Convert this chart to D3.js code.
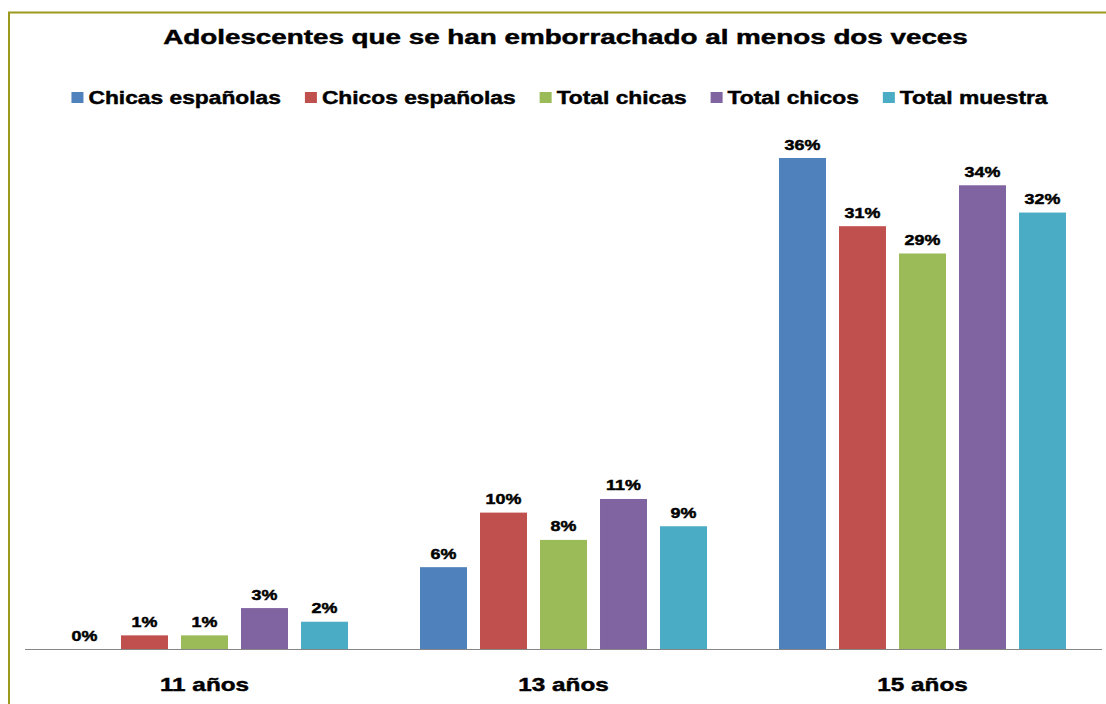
<!DOCTYPE html>
<html>
<head>
<meta charset="utf-8">
<script src="https://cdn.jsdelivr.net/npm/d3@7"></script>
<style>
  html, body { margin: 0; padding: 0; background: #fff; }
  svg { display: block; font-family: "Liberation Sans", Arial, sans-serif; }
  text { font-weight: bold; fill: #000; stroke: #000; stroke-width: 0.45px; }
</style>
</head>
<body>
<svg id="chart" width="1106" height="704"></svg>
<script>
// Data
const title = "Adolescentes que se han emborrachado al menos dos veces";
const categories = ["11 años", "13 años", "15 años"];
const seriesNames = ["Chicas españolas", "Chicos españolas", "Total chicas", "Total chicos", "Total muestra"];
const chicasEspanolas = [0, 6, 36];
const chicosEspanolas = [1, 10, 31];
const totalChicas = [1, 8, 29];
const totalChicos = [3, 11, 34];
const totalMuestra = [2, 9, 32];
const seriesValues = [chicasEspanolas, chicosEspanolas, totalChicas, totalChicos, totalMuestra];
const colors = ["#4F81BD", "#C0504D", "#9BBB59", "#8064A2", "#4BACC6"];

const svg = d3.select("#chart");

// Text drawn with horizontally widened glyphs: a group at (x,y) scaled by k on x
function wideText(parent, x, y, k, size, str, anchor) {
  const g = parent.append("g").attr("transform", `translate(${x},${y}) scale(${k},1)`);
  const t = g.append("text")
    .attr("x", 0).attr("y", 0)
    .attr("text-anchor", anchor || "middle")
    .attr("font-size", size)
    .text(str);
  return { g, t, width: t.node().getComputedTextLength() * k };
}

// Outer frame
svg.append("rect")
  .attr("x", 9).attr("y", 12.5)
  .attr("width", 1200).attr("height", 800)
  .attr("fill", "none").attr("stroke", "#9C9A1E").attr("stroke-width", 2);

// Title
{
  const probe = wideText(svg, 565.5, 44, 1, 20, title);
  const k = 805 / probe.width;
  probe.g.attr("transform", `translate(565.5,44) scale(${k},1)`);
}

// Legend
const legend = svg.append("g");
let lx = 0;
seriesNames.forEach((name, i) => {
  const g = legend.append("g").attr("transform", `translate(${lx},0)`);
  g.append("rect").attr("x", 0).attr("y", 92).attr("width", 12).attr("height", 11).attr("fill", colors[i]);
  const w = wideText(g, 17, 104, 1.2, 19, name, "start").width;
  lx += 17 + w + 24;
});
const legendW = lx - 24;
legend.attr("transform", `translate(${559.5 - legendW / 2},0)`);

// Scales
const plotLeft = 25, plotRight = 1102, baseY = 649;
const x0 = d3.scaleBand().domain(categories).range([plotLeft, plotRight]).padding(0);
const x1 = d3.scaleBand().domain(seriesNames).range([0, x0.bandwidth()])
  .paddingInner(0.217).paddingOuter(0.6);
const y = d3.scaleLinear().domain([0, 36]).range([baseY, baseY - 491]);

// Bars and value labels
const rows = categories.map((c, ci) => seriesNames.map((s, si) => ({ c, s, si, v: seriesValues[si][ci] })));

const groups = svg.append("g").selectAll("g")
  .data(rows)
  .join("g")
  .attr("transform", d => `translate(${x0(d[0].c)},0)`);

groups.selectAll("rect")
  .data(d => d)
  .join("rect")
  .attr("x", d => x1(d.s))
  .attr("y", d => y(d.v))
  .attr("width", x1.bandwidth())
  .attr("height", d => baseY - y(d.v))
  .attr("fill", d => colors[d.si]);

groups.each(function (row) {
  const g = d3.select(this);
  row.forEach(d => {
    wideText(g, x1(d.s) + x1.bandwidth() / 2, y(d.v) - 8.5, 1.28, 14, d.v + "%");
  });
});

// Category axis
svg.append("line")
  .attr("x1", plotLeft).attr("x2", plotRight)
  .attr("y1", baseY + 0.5).attr("y2", baseY + 0.5)
  .attr("stroke", "#868686").attr("stroke-width", 1);

categories.forEach(c => {
  wideText(svg, x0(c) + x0.bandwidth() / 2, 691, 1.28, 19, c);
});
</script>
</body>
</html>
